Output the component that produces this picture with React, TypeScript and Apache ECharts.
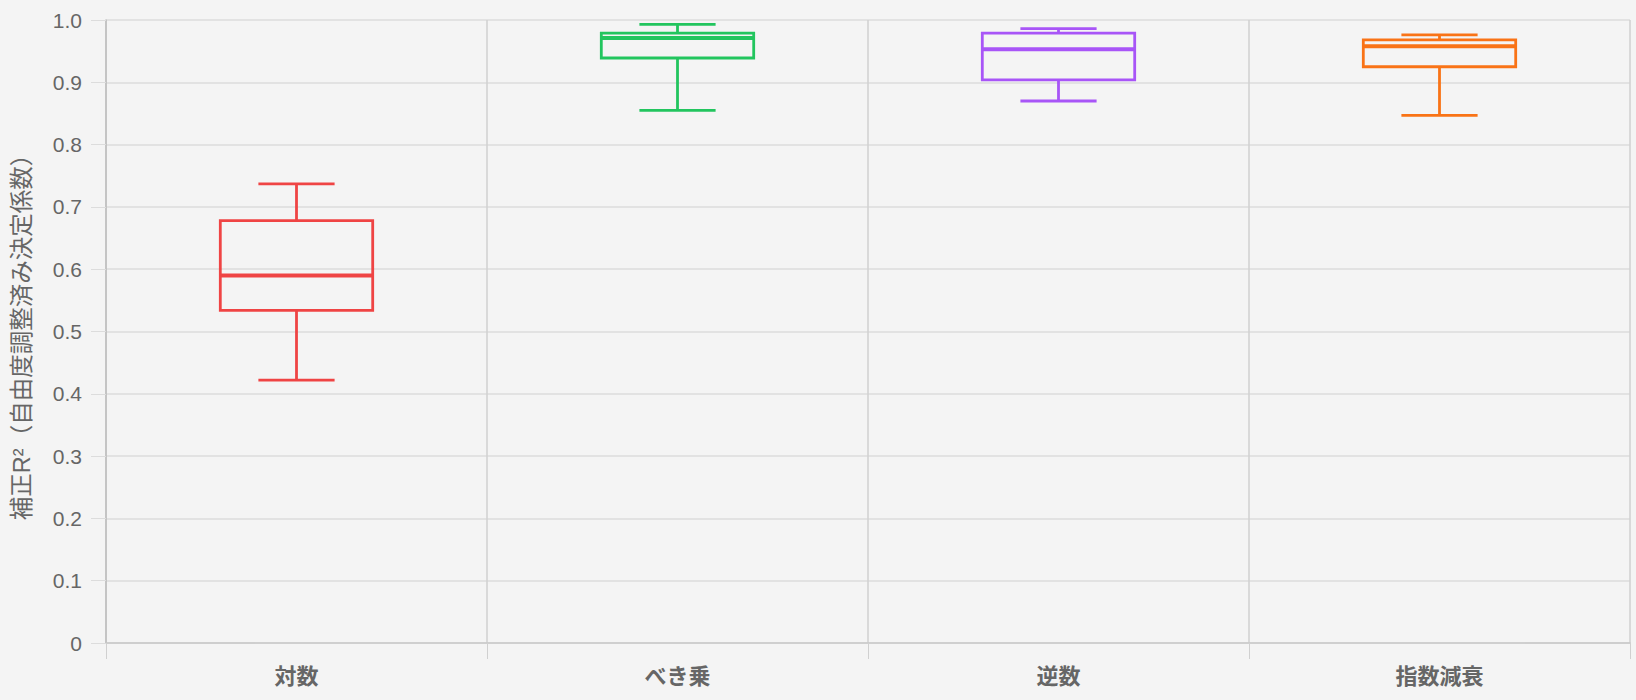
import React, { useEffect, useRef } from 'react';
import * as echarts from 'echarts';

// 補正R² by model (min, Q1, median, Q3, max)
const categories = ['対数', 'べき乗', '逆数', '指数減衰'];
const minValues = [0.422, 0.855, 0.870, 0.847];
const q1Values = [0.534, 0.939, 0.904, 0.925];
const medianValues = [0.590, 0.971, 0.953, 0.958];
const q3Values = [0.678, 0.979, 0.979, 0.968];
const maxValues = [0.737, 0.993, 0.986, 0.976];
const yTicks = [0, 0.1, 0.2, 0.3, 0.4, 0.5, 0.6, 0.7, 0.8, 0.9, 1.0];

const colors = ['#ef4444', '#22c55e', '#a855f7', '#f97316'];
const FONT = '"Helvetica Neue", Helvetica, Arial, "Noto Sans CJK JP", sans-serif';

const App: React.FC = () => {
  const chartRef = useRef<HTMLDivElement>(null);

  useEffect(() => {
    if (!chartRef.current) return;
    const chart = echarts.init(chartRef.current, undefined, { renderer: 'svg' });

    const rows = categories.map((_, i) => [
      i, minValues[i], q1Values[i], medianValues[i], q3Values[i], maxValues[i],
    ]);

    const option: echarts.EChartsOption = {
      animation: false,
      backgroundColor: '#f4f4f4',
      textStyle: { fontFamily: FONT },
      grid: { left: 106, right: 6, top: 20, bottom: 57 },
      xAxis: {
        type: 'category',
        data: categories,
        boundaryGap: true,
        axisLine: { show: true, lineStyle: { color: '#c8c8c8', width: 1.5 } },
        axisTick: { show: true, length: 16, lineStyle: { color: '#d0d0d0' } },
        axisLabel: {
          color: '#666',
          fontSize: 22,
          fontWeight: 'bold',
          margin: 22,
          fontFamily: FONT,
        },
        splitLine: { show: true, lineStyle: { color: '#d0d0d0', width: 1.5 } },
      },
      yAxis: {
        type: 'value',
        min: 0,
        max: 1,
        interval: 0.1,
        name: '補正R²（自由度調整済み決定係数）',
        nameLocation: 'middle',
        nameGap: 72,
        nameTextStyle: { color: '#666', fontSize: 23.5, fontFamily: FONT },
        axisLine: { show: true, lineStyle: { color: '#bdbdbd', width: 1.5 } },
        axisTick: { show: true, length: 15, lineStyle: { color: '#dcdcdc' } },
        axisLabel: {
          color: '#666',
          fontSize: 21,
          margin: 24,
          fontFamily: FONT,
          formatter: (v: number) => {
            const t = yTicks.find((k) => Math.abs(k - v) < 1e-9);
            const val = t === undefined ? v : t;
            return val === 0 ? '0' : val.toFixed(1);
          },
        },
        splitLine: { show: true, lineStyle: { color: '#dcdcdc', width: 1.5 } },
      },
      series: [
        {
          type: 'custom',
          data: rows,
          encode: { x: 0, y: [1, 2, 3, 4, 5] },
          renderItem: (params: any, api: any) => {
            const idx = api.value(0);
            const color = colors[idx];
            const [cx, yMin] = api.coord([idx, api.value(1)]);
            const yQ1 = api.coord([idx, api.value(2)])[1];
            const yMed = api.coord([idx, api.value(3)])[1];
            const yQ3 = api.coord([idx, api.value(4)])[1];
            const yMax = api.coord([idx, api.value(5)])[1];
            const band = api.size([1, 0])[0];
            const half = (band * 0.4) / 2;
            const cap = half / 2;
            const line = { stroke: color, lineWidth: 2.8, fill: 'none' };
            return {
              type: 'group',
              children: [
                { type: 'line', shape: { x1: cx, y1: yQ3, x2: cx, y2: yMax }, style: line },
                { type: 'line', shape: { x1: cx, y1: yQ1, x2: cx, y2: yMin }, style: line },
                { type: 'line', shape: { x1: cx - cap, y1: yMax, x2: cx + cap, y2: yMax }, style: line },
                { type: 'line', shape: { x1: cx - cap, y1: yMin, x2: cx + cap, y2: yMin }, style: line },
                {
                  type: 'rect',
                  shape: { x: cx - half, y: yQ3, width: half * 2, height: yQ1 - yQ3 },
                  style: line,
                },
                {
                  type: 'line',
                  shape: { x1: cx - half, y1: yMed, x2: cx + half, y2: yMed },
                  style: { stroke: color, lineWidth: 4 },
                },
              ],
            };
          },
        },
      ],
    };

    chart.setOption(option);
    return () => {
      chart.dispose();
    };
  }, []);

  return (
    <div
      ref={chartRef}
      style={{ position: 'absolute', left: 0, top: 0, width: '1636px', height: '700px' }}
    />
  );
};

export default App;
